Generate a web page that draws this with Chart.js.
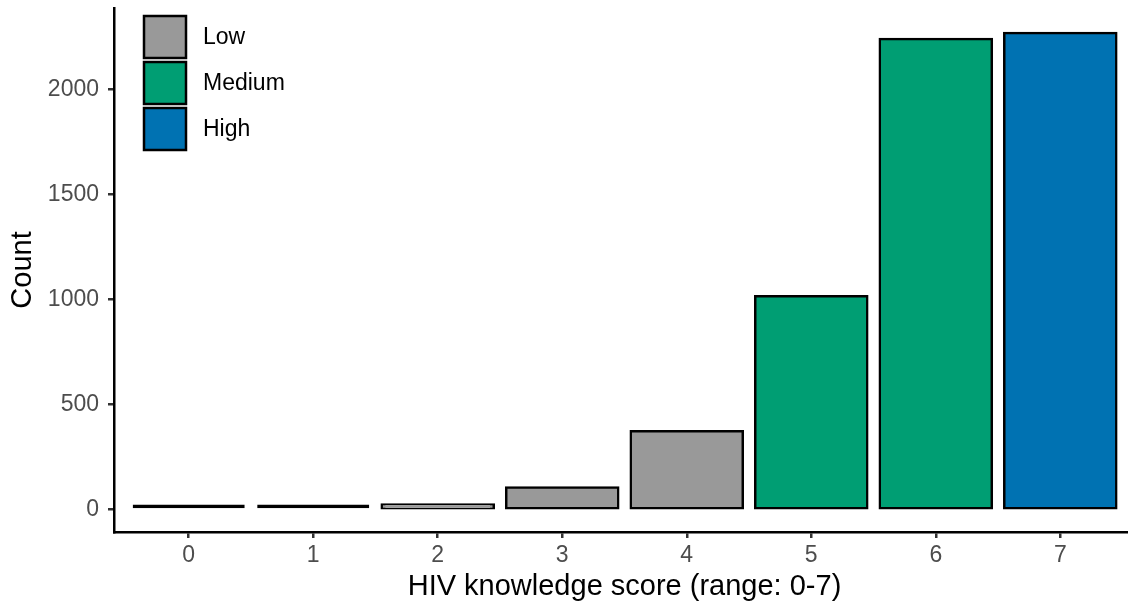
<!DOCTYPE html>
<html>
<head>
<meta charset="utf-8">
<script src="https://cdn.jsdelivr.net/npm/chart.js@4.4.1/dist/chart.umd.min.js"></script>
<style>
  html, body { margin: 0; padding: 0; background: #fff; overflow: hidden; }
  #wrap { width: 1140px; height: 608px; }
</style>
</head>
<body>
<div id="wrap"><canvas id="chart" width="1140" height="608"></canvas></div>
<script>
const scores = ['0', '1', '2', '3', '4', '5', '6', '7'];
const counts = [2, 4, 19, 105, 373, 1015, 2240, 2268];
const levels = ['Low', 'Low', 'Low', 'Low', 'Low', 'Medium', 'Medium', 'High'];
const levelNames = ['Low', 'Medium', 'High'];
const levelColors = ['#999999', '#009E73', '#0072B2'];
const yTicks = [0, 500, 1000, 1500, 2000];

const family = '"Liberation Sans", Arial, sans-serif';

// legend drawn inside the plot, top left
const legendBoxes = {
    id: 'legendBoxes',
    afterDraw(chart) {
        const ctx = chart.ctx;
        ctx.save();
        levelNames.forEach((name, i) => {
            const y = 16 + i * 46;
            ctx.fillStyle = levelColors[i];
            ctx.fillRect(144, y, 42, 42);
            ctx.strokeStyle = '#000';
            ctx.lineWidth = 2.5;
            ctx.strokeRect(144, y, 42, 42);
            ctx.fillStyle = '#000';
            ctx.font = '23px ' + family;
            ctx.textBaseline = 'middle';
            ctx.textAlign = 'left';
            ctx.fillText(name, 203, y + 22);
        });
        ctx.restore();
    }
};

const ctx = document.getElementById('chart').getContext('2d');
const myChart = new Chart(ctx, {
    type: 'bar',
    data: {
        datasets: [{
            data: scores.map((s, i) => ({ x: i, y: counts[i] })),
            backgroundColor: levels.map(l => levelColors[levelNames.indexOf(l)]),
            borderColor: '#000',
            borderWidth: 2.5,
            borderSkipped: false,
            inflateAmount: c => (c.raw && c.raw.y < 10 ? 0 : 1.25),
            minBarLength: 5,
            barPercentage: 0.9,
            categoryPercentage: 1
        }]
    },
    options: {
        responsive: false,
        animation: false,
        devicePixelRatio: 1,
        layout: { padding: { top: 8, right: 5, left: 0, bottom: 0 } },
        plugins: {
            legend: { display: false },
            tooltip: { enabled: false }
        },
        scales: {
            x: {
                type: 'linear',
                offset: false,
                min: -0.6,
                max: 7.6,
                afterBuildTicks: s => { s.ticks = scores.map((_, i) => ({ value: i })); },
                afterFit: s => { s.height = 76; s.paddingLeft = 0; s.paddingRight = 0; },
                ticks: {
                    callback: v => scores[v],
                    color: '#4D4D4D',
                    font: { size: 23, family: family },
                    padding: 4,
                    maxRotation: 0,
                    autoSkip: false
                },
                grid: { offset: false, drawOnChartArea: false, drawTicks: true, tickLength: 6, color: '#333', lineWidth: 2.5 },
                border: { display: true, color: '#000', width: 2.5 },
                title: {
                    display: true,
                    text: 'HIV knowledge score (range: 0-7)',
                    color: '#000',
                    font: { size: 29, family: family },
                    padding: { top: 0, bottom: 4 }
                }
            },
            y: {
                min: -107,
                max: 2387,
                afterBuildTicks: s => { s.ticks = yTicks.map(v => ({ value: v })); },
                afterFit: s => { s.width = 114; s.paddingTop = 0; s.paddingBottom = 0; },
                ticks: {
                    callback: v => String(v),
                    color: '#4D4D4D',
                    font: { size: 23, family: family },
                    padding: 9
                },
                grid: { drawOnChartArea: false, drawTicks: true, tickLength: 6, color: '#333', lineWidth: 2.5 },
                border: { display: true, color: '#000', width: 2.5 },
                title: {
                    display: true,
                    text: 'Count',
                    color: '#000',
                    font: { size: 29, family: family },
                    padding: { top: 6, bottom: 0 }
                }
            }
        }
    },
    plugins: [legendBoxes]
});
</script>
</body>
</html>
